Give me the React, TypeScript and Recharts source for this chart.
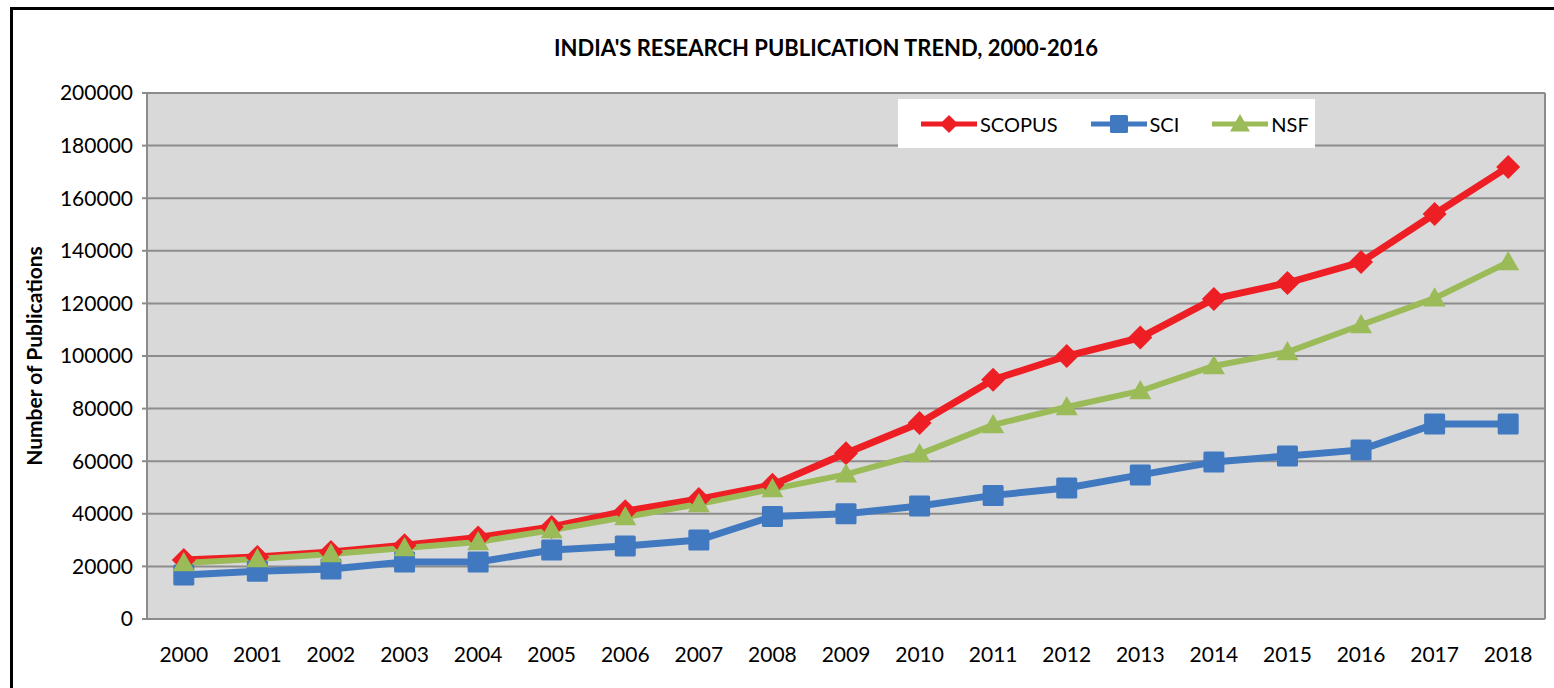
import React from "react";
import {
  LineChart,
  Line,
  XAxis,
  YAxis,
  CartesianGrid,
} from "recharts";

// publication counts
const years = [
  "2000", "2001", "2002", "2003", "2004", "2005", "2006", "2007", "2008", "2009",
  "2010", "2011", "2012", "2013", "2014", "2015", "2016", "2017", "2018",
];
const scopus = [
  22400, 23600, 25500, 28000, 31000, 35000, 41000, 45600, 51000, 63000,
  74500, 91000, 100000, 107000, 121700, 127800, 135700, 154000, 171900,
];
const sci = [
  16700, 18200, 19000, 21700, 21700, 26200, 27800, 30000, 39000, 40000,
  43000, 47000, 49800, 54800, 59700, 62000, 64300, 74100, 74100,
];
const nsf = [
  21300, 22800, 24700, 27000, 29300, 33800, 38800, 43700, 49400, 55000,
  62700, 73800, 80600, 86700, 96200, 101500, 111800, 122000, 135700,
];
const yTicks = [0, 20000, 40000, 60000, 80000, 100000, 120000, 140000, 160000, 180000, 200000];

const data = years.map((y, i) => ({
  year: y,
  SCOPUS: scopus[i],
  SCI: sci[i],
  NSF: nsf[i],
}));

const RED = "#ED1F24";
const BLUE = "#4179C0";
const GREEN = "#9BBB59";
const GRID = "#8C8C8C";
const FONT = "Lato, 'Open Sans', sans-serif";

const Diamond = ({ cx, cy, color, r = 12 }: any) => (
  <polygon
    points={`${cx},${cy - r} ${cx + r},${cy} ${cx},${cy + r} ${cx - r},${cy}`}
    fill={color}
  />
);

const Square = ({ cx, cy, color, r = 10.5 }: any) => (
  <rect x={cx - r} y={cy - r} width={r * 2} height={r * 2} rx={1.5} fill={color} />
);

const Triangle = ({ cx, cy, color, r = 11 }: any) => (
  <polygon
    points={`${cx},${cy - r} ${cx + r},${cy + r * 0.75} ${cx - r},${cy + r * 0.75}`}
    fill={color}
  />
);

const legendItems = [
  { name: "SCOPUS", color: RED, Shape: Diamond, r: 9 },
  { name: "SCI", color: BLUE, Shape: Square, r: 9 },
  { name: "NSF", color: GREEN, Shape: Triangle, r: 10 },
];

const LegendBox = () => (
  <div
    style={{
      position: "absolute",
      left: 898,
      top: 99,
      background: "#fff",
      width: 417,
      height: 49,
      display: "flex",
      alignItems: "center",
      paddingLeft: 23,
      boxSizing: "border-box",
      fontFamily: FONT,
      fontSize: 20,
      color: "#000",
    }}
  >
    {legendItems.map(({ name, color, Shape, r }) => (
      <div key={name} style={{ display: "flex", alignItems: "center", marginRight: 33 }}>
        <svg width={56} height={26}>
          <line x1={0} y1={13} x2={56} y2={13} stroke={color} strokeWidth={5} />
          <Shape cx={28} cy={13} color={color} r={r} />
        </svg>
        <span style={{ marginLeft: 3 }}>{name}</span>
      </div>
    ))}
  </div>
);

const YLabel = ({ viewBox }: any) => (
  <text
    x={0}
    y={0}
    transform={`translate(${viewBox.x + 33}, ${viewBox.y + viewBox.height / 2}) rotate(-90)`}
    textAnchor="middle"
    dominantBaseline="central"
    fontFamily={FONT}
    fontWeight="bold"
    fontSize={21}
    fill="#000"
  >
    Number of Publications
  </text>
);

export default function App() {
  return (
    <div
      style={{
        position: "absolute",
        left: 0,
        top: 0,
        width: 1554,
        height: 688,
        overflow: "hidden",
        background: "#fff",
      }}
    >
      <div
        style={{
          position: "absolute",
          left: 10,
          top: 7,
          width: 1600,
          height: 720,
          border: "3px solid #000",
        }}
      />
      <div
        style={{
          position: "absolute",
          left: 0,
          top: 34,
          width: 1652,
          textAlign: "center",
          fontFamily: FONT,
          fontWeight: "bold",
          fontSize: 22,
          color: "#000",
        }}
      >
        INDIA'S RESEARCH PUBLICATION TREND, 2000-2016
      </div>
      <div style={{ position: "absolute", left: 0, top: 0 }}>
        <LineChart
          width={1554}
          height={688}
          data={data}
          margin={{ top: 93, right: 0, bottom: 0, left: 0 }}
        >
          <CartesianGrid
            vertical={false}
            fill="#D9D9D9"
            stroke={GRID}
            strokeWidth={2}
          />
          <XAxis
            dataKey="year"
            height={69}
            padding={{ left: 36.8, right: 36.8 }}
            tickLine={false}
            tickSize={0}
            tickMargin={28}
            axisLine={{ stroke: GRID, strokeWidth: 2 }}
            tick={{ fill: "#000", fontSize: 21, fontFamily: FONT }}
            interval={0}
          />
          <YAxis
            width={147}
            domain={[0, 200000]}
            ticks={yTicks}
            interval={0}
            tickSize={5}
            tickMargin={9}
            tickLine={{ stroke: GRID, strokeWidth: 2 }}
            axisLine={{ stroke: GRID, strokeWidth: 2 }}
            tick={{ fill: "#000", fontSize: 21, fontFamily: FONT }}
            label={<YLabel />}
          />
          <YAxis
            yAxisId="r"
            orientation="right"
            width={9}
            domain={[0, 200000]}
            tick={false}
            tickLine={false}
            axisLine={{ stroke: GRID, strokeWidth: 2 }}
          />
          <Line
            dataKey="SCOPUS"
            stroke={RED}
            strokeWidth={7}
            isAnimationActive={false}
            dot={(p: any) => <Diamond key={`s${p.index}`} cx={p.cx} cy={p.cy} color={RED} />}
            activeDot={false}
          />
          <Line
            dataKey="SCI"
            stroke={BLUE}
            strokeWidth={7}
            isAnimationActive={false}
            dot={(p: any) => <Square key={`c${p.index}`} cx={p.cx} cy={p.cy} color={BLUE} />}
            activeDot={false}
          />
          <Line
            dataKey="NSF"
            stroke={GREEN}
            strokeWidth={6}
            isAnimationActive={false}
            dot={(p: any) => <Triangle key={`n${p.index}`} cx={p.cx} cy={p.cy} color={GREEN} />}
            activeDot={false}
          />
        </LineChart>
      </div>
      <LegendBox />
    </div>
  );
}
